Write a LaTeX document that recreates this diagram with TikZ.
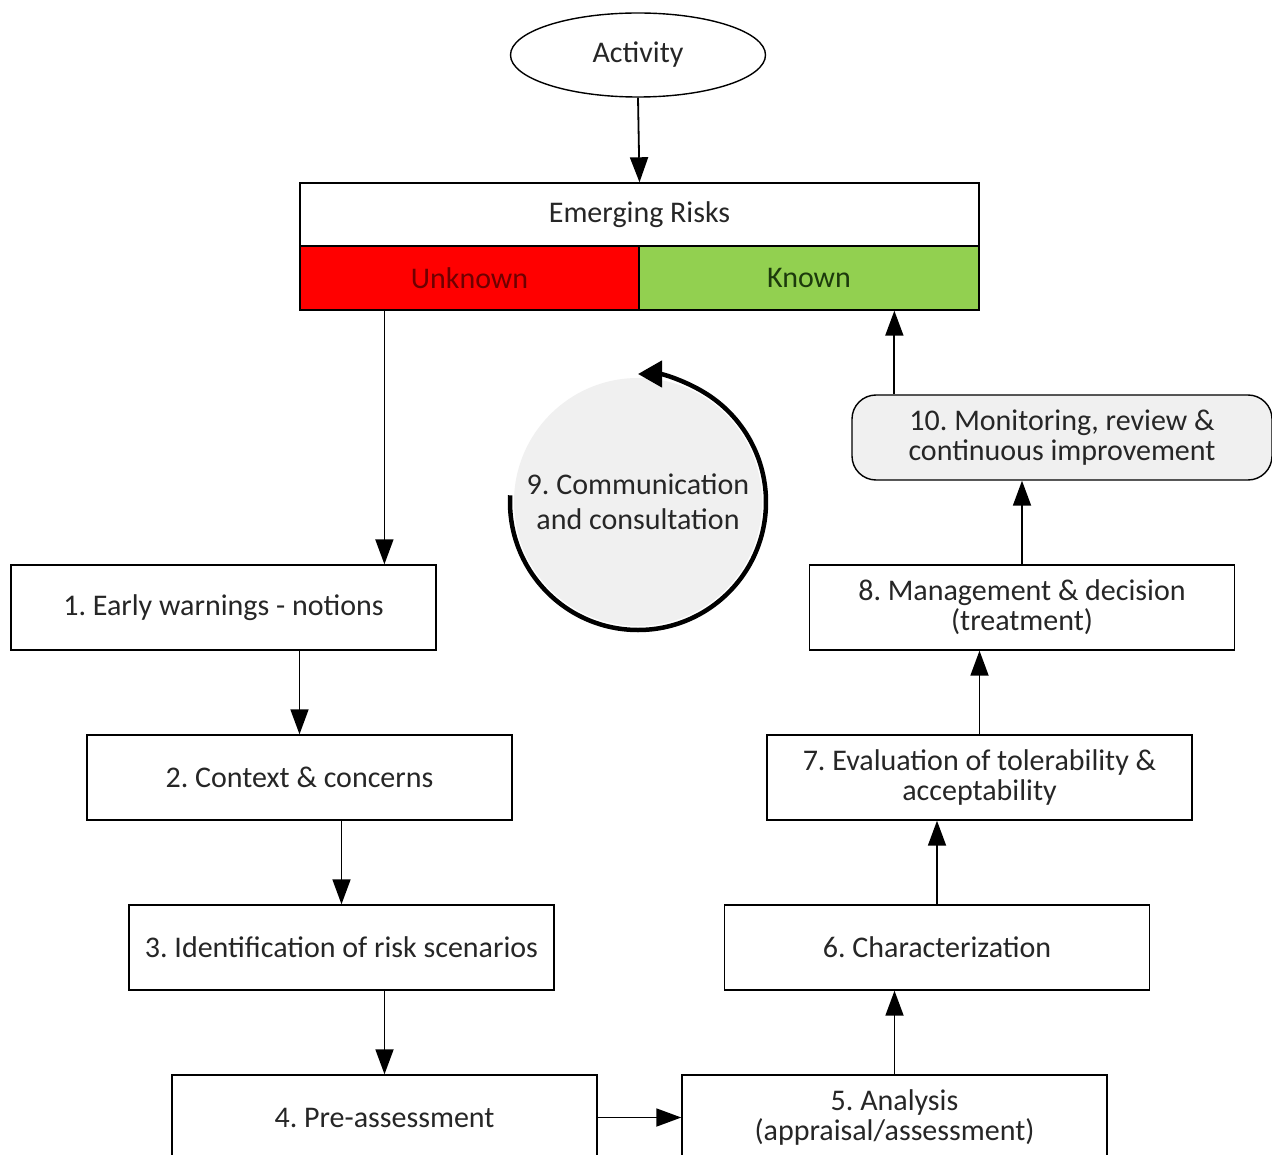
\documentclass[tikz,border=0pt]{standalone}
\usepackage{fontspec}
\setmainfont{Carlito}
\usetikzlibrary{arrows.meta,calc,shapes.geometric}
\definecolor{txt}{HTML}{262626}
\definecolor{unkred}{HTML}{FF0000}
\definecolor{kngreen}{HTML}{92D050}
\definecolor{unktxt}{HTML}{6E0000}
\definecolor{kntxt}{HTML}{1C3A0C}
\definecolor{softgray}{HTML}{F0F0F0}
\tikzset{
  every node/.style={font=\fontsize{30}{31}\selectfont, text=txt},
  stepbox/.style={draw=black, line width=1.4pt, fill=white, rectangle,
    minimum width=425pt, minimum height=85pt, inner sep=0pt, align=center},
  arr/.style={line width=1.8pt, -{Triangle[length=25pt,width=18pt]}},
  band/.style={draw=black, line width=1.4pt, rectangle, minimum height=64pt,
    inner sep=0pt, align=center},
}
\begin{document}
\frenchspacing
\begin{tikzpicture}[x=1pt,y=-1pt]
\useasboundingbox (0,0) rectangle (1272,1155);
\clip (0,0) rectangle (1272,1155);
\fill[white] (0,0) rectangle (1272,1155);

% start of the process
\node[draw=black, line width=1.4pt, ellipse, minimum width=255pt, minimum height=84pt,
  inner sep=0pt] (act) at (638,55) {Activity};

% emerging risks band
\node[band, fill=white, minimum width=679pt, minimum height=63pt] (er) at (639.5,214.5) {Emerging Risks};
\node[band, fill=unkred, minimum width=339pt, text=unktxt] (unk) at (469.5,278) {Unknown};
\node[band, fill=kngreen, minimum width=340pt, text=kntxt] (kn) at (809,278) {Known};

% communication loop
\node[circle, fill=softgray, minimum size=248pt, inner sep=0pt, align=center] (com) at (638,502)
  {9. Communication\\[4pt]and consultation};
\draw[line width=4.5pt, -{Triangle[length=24pt,width=26pt]}]
  ($(com.center)+(177:128pt)$) arc[start angle=177, end angle=450, radius=128pt];

% left column
\node[stepbox] (b1) at (223.5,607.5) {1. Early warnings - notions};
\node[stepbox] (b2) at (299.5,777.5) {2. Context \& concerns};
\node[stepbox] (b3) at (341.5,947.5) {3. Identification of risk scenarios};
\node[stepbox] (b4) at (384.5,1117.5) {4. Pre-assessment};

% right column
\node[stepbox] (b5) at (894.5,1117.5) {5. Analysis\\[-1pt](appraisal/assessment)};
\node[stepbox] (b6) at (937,947.5) {6. Characterization};
\node[stepbox] (b7) at (979.5,777.5) {7. Evaluation of tolerability \&\\[-1pt]acceptability};
\node[stepbox] (b8) at (1022,607.5) {8. Management \& decision\\[-1pt](treatment)};
\node[stepbox, rounded corners=24pt, fill=softgray, minimum width=420pt] (b10) at (1062,437.5)
  {10. Monitoring, review \&\\[-1pt]continuous improvement};

% connectors
\draw[arr] (act.south) -- (er.north);
\coordinate (u1) at ($(unk.south west)!0.25!(unk.south east)$);
\draw[arr] (u1) -- (u1 |- b1.north);
\draw[arr] (b2.north |- b1.south) -- (b2.north);
\draw[arr] (b3.north |- b2.south) -- (b3.north);
\draw[arr] (b4.north |- b3.south) -- (b4.north);
\draw[arr] (b4.east) -- (b5.west);
\draw[arr] (b5.north) -- (b5.north |- b6.south);
\draw[arr] (b6.north) -- (b6.north |- b7.south);
\draw[arr] (b7.north) -- (b7.north |- b8.south);
\draw[arr] (b8.north) -- (b8.north |- b10.south);
\coordinate (k1) at ($(kn.south west)!0.75!(kn.south east)$);
\draw[arr] (k1 |- b10.north) -- (k1);
\end{tikzpicture}
\end{document}
